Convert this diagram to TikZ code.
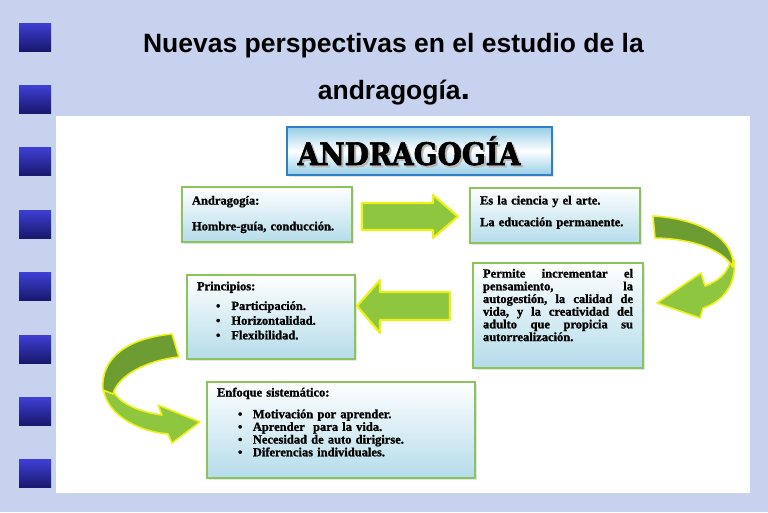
\documentclass[tikz,border=0pt]{standalone}
\usepackage{fontspec}
\setmainfont{Liberation Serif}[BoldFeatures={FakeBold=1.3}]
\newfontfamily\headfont{Liberation Sans}
\newfontfamily\bigfont[FakeStretch=0.9,BoldFeatures={FakeBold=2}]{DejaVu Serif}
\usepackage{tikz}
\usetikzlibrary{shadows}
\usepackage{xcolor}
\definecolor{bgblue}{RGB}{198,210,238}
\definecolor{sqtop}{RGB}{62,62,212}
\definecolor{sqbot}{RGB}{24,24,108}
\definecolor{boxgreen}{RGB}{140,196,92}
\definecolor{boxblue}{RGB}{180,220,234}
\definecolor{titleblue}{RGB}{48,128,200}
\definecolor{skyblue}{RGB}{150,205,230}
\definecolor{arrgreen}{RGB}{142,198,63}
\definecolor{darkgreen}{RGB}{108,156,50}
\definecolor{glow}{RGB}{236,242,24}
\newcommand{\lift}[1]{\rule[-#1]{0pt}{#1}}
\newcommand{\shadowed}[1]{\rlap{\hspace{2pt}\raisebox{-2pt}[0pt][0pt]{\color{gray!55}#1}}#1}

\begin{document}
\begin{tikzpicture}[x=1pt,y=-1pt]

  \tikzstyle{box}=[draw=boxgreen, line width=2.5pt, top color=white, bottom color=boxblue, inner xsep=10pt, align=left, font=\bfseries\fontsize{12.5}{12.7}\selectfont, drop shadow={opacity=0.2,shadow xshift=1.5pt,shadow yshift=-1.5pt}]
  \tikzstyle{blockarrow}=[fill=arrgreen, draw=glow, line width=2.2pt, line join=round]
  \tikzstyle{lightpart}=[fill=arrgreen, draw=glow, line width=1.6pt, line join=round]
  \tikzstyle{darkpart}=[fill=darkgreen, draw=glow, line width=1.6pt, line join=round]
  \tikzstyle{headline}=[anchor=base, font=\headfont\bfseries\fontsize{26.5}{26.5}\selectfont]

  \useasboundingbox (0,0) rectangle (768,512);
  \fill[bgblue] (0,0) rectangle (768,512);
  \foreach \i in {0,...,7}
    \shade[top color=sqtop, bottom color=sqbot] (19,23+62.4*\i) rectangle (51,51+62.4*\i);

  \node[headline] (head1) at (393.5,52) {Nuevas perspectivas en el estudio de la};
  \node[headline] (head2) at (394,99) {andragogía{\fontsize{34}{34}\selectfont.}};

  \fill[white] (56,116) rectangle (750,493);

  \node[draw=titleblue, line width=2.5pt, top color=skyblue, bottom color=skyblue, middle color=white, minimum width=265pt, minimum height=48pt, drop shadow={opacity=0.2,shadow xshift=1.5pt,shadow yshift=-1.5pt}] (tbox) at (419.5,151) {};
  \node[anchor=base, font=\bigfont\bfseries\fontsize{31}{31}\selectfont] (ttext) at (409,165) {\shadowed{ANDRAGOGÍA}};

  \node[box, minimum width=170pt, minimum height=55pt, text width=150pt] (andr) at (267,214.5) {Andragogía:\\[13pt] Hombre-guía, conducción.};
  \node[box, minimum width=170pt, minimum height=55pt, text width=150pt] (arte) at (555,215.5) {Es la ciencia y el arte.\\[9pt] La educación permanente.\lift{9pt}};
  \node[box, minimum width=170pt, minimum height=105pt, text width=150pt] (perm) at (558,315.5) {Permite\hfill incrementar\hfill el\\ pensamiento,\hfill la\\ autogestión,\hfill la\hfill calidad\hfill de\\ vida,\hfill y\hfill la\hfill creatividad\hfill del\\ adulto\hfill que\hfill propicia\hfill su\\ autorrealización.\lift{21pt}};
  \node[box, minimum width=168pt, minimum height=84pt, text width=148pt] (prin) at (271,317) {Principios:\\[7pt]
    \hspace*{19pt}\textbullet\hspace{11pt}Participación.\\[2pt]
    \hspace*{19pt}\textbullet\hspace{11pt}Horizontalidad.\\[2pt]
    \hspace*{19pt}\textbullet\hspace{11pt}Flexibilidad.\lift{13pt}};
  \node[box, minimum width=268pt, minimum height=96pt, text width=248pt] (enfo) at (341,430) {Enfoque sistemático:\\[9pt]
    \hspace*{21pt}\textbullet\hspace{10.5pt}Motivación por aprender.\\
    \hspace*{21pt}\textbullet\hspace{10.5pt}Aprender\ \ para la vida.\\
    \hspace*{21pt}\textbullet\hspace{10.5pt}Necesidad de auto dirigirse.\\
    \hspace*{21pt}\textbullet\hspace{10.5pt}Diferencias individuales.\lift{16pt}};

  % straight arrows
  \draw[blockarrow] (362,203) -- (433,203) -- (433,195) -- (458,216.5) -- (433,238) -- (433,230) -- (362,230) -- cycle;
  \draw[blockarrow] (450,292) -- (380,292) -- (380,280) -- (357,306) -- (380,333) -- (380,320) -- (450,320) -- cycle;

  % curved arrow on the right
  \draw[lightpart] (734,260) .. controls (737,285) and (722,302) .. (703,308) -- (700,318) -- (657,303) -- (701,273) -- (705,286) .. controls (718,281) and (727,274) .. (730,262) -- cycle;
  \draw[darkpart] (653,216) .. controls (703,219) and (735,240) .. (733,267) .. controls (724,252) and (698,239) .. (655,238) -- cycle;

  % curved arrow on the left
  \draw[lightpart] (103,384) .. controls (103,412) and (135,431) .. (168,434) -- (172,443) -- (200,422) -- (158,405) -- (162,415) .. controls (140,412) and (120,404) .. (113,391) -- cycle;
  \draw[darkpart] (172,334) .. controls (128,338) and (100,358) .. (103,390) -- (113,394) .. controls (118,375) and (148,360) .. (179,357) -- cycle;

\end{tikzpicture}
\end{document}
